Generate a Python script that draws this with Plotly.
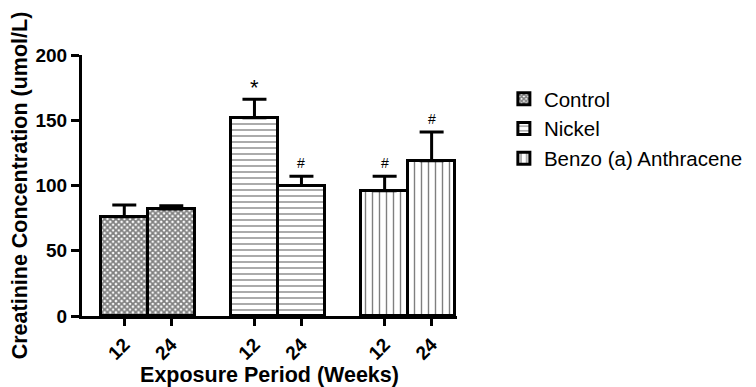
import plotly.graph_objects as go

# ---- data ----
groups = ["Control", "Nickel", "Benzo (a) Anthracene"]
weeks = ["12", "24"]
control_vals = [76, 82]
control_err = [9, 2.5]
nickel_vals = [152, 100]
nickel_err = [14, 7]
benzo_vals = [96, 119]
benzo_err = [11, 22]
sig_marks = [["", ""], ["*", "#"], ["#", "#"]]

values = [control_vals, nickel_vals, benzo_vals]
errors = [control_err, nickel_err, benzo_err]
patterns = [
    dict(shape="x", size=4, solidity=0.7, fgcolor="black", bgcolor="white"),
    dict(shape="-", size=6, solidity=0.22, fgcolor="black", bgcolor="white"),
    dict(shape="|", size=7, solidity=0.2, fgcolor="black", bgcolor="white"),
]

FONT = "Liberation Sans, Arial, sans-serif"
group_gap = 0.77  # spacing between groups in bar-width units
step = len(weeks) + group_gap

fig = go.Figure()
tickvals, ticktext = [], []
annotations = []
for g, name in enumerate(groups):
    xs = [g * step + i for i in range(len(weeks))]
    tickvals += xs
    ticktext += weeks
    fig.add_trace(go.Bar(
        x=xs, y=values[g], name=name, width=1.0,
        marker=dict(color="white", line=dict(color="black", width=3), pattern=patterns[g]),
        error_y=dict(type="data", symmetric=False, array=errors[g],
                     arrayminus=[0] * len(errors[g]), color="black", thickness=3, width=12),
    ))
    for i, x in enumerate(xs):
        m = sig_marks[g][i]
        if m:
            annotations.append(dict(
                x=x, y=values[g][i] + errors[g][i], text=m, showarrow=False,
                xanchor="center", yanchor="bottom", yshift=(-3 if m == "*" else 3),
                font=dict(family=FONT, size=22 if m == "*" else 14, color="black"),
            ))

# the page body adds an 8px margin at top/left, so the figure is 8px smaller than the window
fig.update_layout(
    width=748, height=379,
    margin=dict(l=74, r=299, t=47, b=71, autoexpand=False),
    paper_bgcolor="white", plot_bgcolor="white",
    showlegend=True,
    legend=dict(x=1.125, y=0.908, xanchor="left", yanchor="top",
                font=dict(family=FONT, size=20.5, color="black"),
                bgcolor="rgba(0,0,0,0)", tracegroupgap=0),
    annotations=annotations,
    bargap=0,
    font=dict(family=FONT, color="black"),
)
fig.update_xaxes(
    range=[-0.9, 2 * step + 1.54], automargin=False,
    tickvals=tickvals, ticktext=ticktext, tickangle=-45,
    tickfont=dict(family=FONT, size=19, weight="bold", color="black"),
    showline=True, linecolor="black", linewidth=3,
    ticks="outside", ticklen=7, tickwidth=2.5, tickcolor="black",
    showgrid=False, zeroline=False,
    title=dict(text="Exposure Period (Weeks)", standoff=14,
               font=dict(family=FONT, size=21.5, weight="bold", color="black")),
)
fig.update_yaxes(
    range=[0, 200], tickvals=[0, 50, 100, 150, 200], automargin=False,
    tickfont=dict(family=FONT, size=19, weight="bold", color="black"),
    showline=True, linecolor="black", linewidth=3,
    ticks="outside", ticklen=8, tickwidth=2.5, tickcolor="black",
    showgrid=False, zeroline=False,
    title=dict(text="Creatinine Concentration (umol/L)", standoff=6,
               font=dict(family=FONT, size=21.5, weight="bold", color="black")),
)

fig.write_html("out.html")
